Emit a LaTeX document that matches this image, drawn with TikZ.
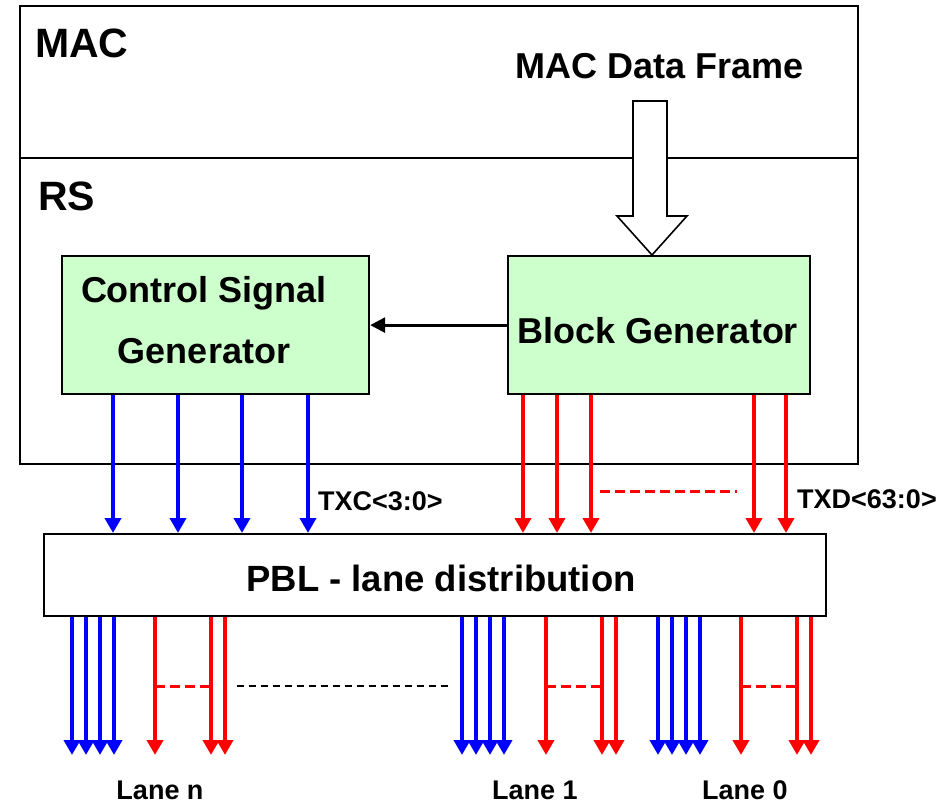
\documentclass[tikz,border=0pt]{standalone}
\usepackage{fontspec}
\setmainfont{Liberation Sans}
\usetikzlibrary{arrows.meta}
\definecolor{boxgreen}{RGB}{204,255,204}
\definecolor{sigblue}{RGB}{0,0,255}
\definecolor{sigred}{RGB}{255,0,0}
\begin{document}
\begin{tikzpicture}[x=1pt,y=-1pt,
  panel/.style={draw, line width=2.2pt, rectangle, inner sep=0pt, anchor=north west},
  genbox/.style={draw, line width=2.2pt, fill=boxgreen, rectangle, inner sep=0pt, anchor=north west},
  bluearr/.style={draw=sigblue, line width=4pt, -{Triangle[width=16pt,length=15pt]}, sigblue},
  redarr/.style={draw=sigred, line width=4pt, -{Triangle[width=16pt,length=15pt]}, sigred},
  reddash/.style={draw=sigred, line width=3pt, dash pattern=on 10pt off 5pt},
  blackdash/.style={draw=black, line width=2.5pt, dash pattern=on 7pt off 5pt},
  bigtxt/.style={font=\fontsize{41}{48}\selectfont\bfseries, inner sep=0pt},
  midtxt/.style={font=\fontsize{36}{44}\selectfont\bfseries, inner sep=0pt},
  smalltxt/.style={font=\fontsize{27}{32}\selectfont\bfseries, inner sep=0pt}
]
\useasboundingbox (0,0) rectangle (946,803);

% MAC and RS layers
\node[panel, minimum width=838pt, minimum height=152pt] (mac) at (19,5) {};
\node[panel, minimum width=838pt, minimum height=306pt] (rs) at (19,157) {};
\node[bigtxt, anchor=base west] (maclbl) at (35,57) {MAC};
\node[bigtxt, anchor=base west] (rslbl) at (38,210) {RS};
\node[midtxt, anchor=base] (frame) at (660,78) {MAC Data Frame};

% generators
\node[genbox, minimum width=307pt, minimum height=138pt] (csg) at (61,255) {};
\node[midtxt, anchor=base] (csgl1) at (204,302) {Control Signal};
\node[midtxt, anchor=base] (csgl2) at (204,363) {Generator};
\node[genbox, minimum width=302pt, minimum height=138pt] (bg) at (507,255) {};
\node[midtxt, anchor=base] (bgl) at (658,343) {Block Generator};

% hollow arrow carrying the data frame into the block generator
\draw[line width=1.6pt, fill=white]
  (633,101) -- (667,101) -- (667,216) -- (687,216) -- (bg.north -| 652,0)
  -- (617,216) -- (633,216) -- cycle;

% block generator feeds the control signal generator
\draw[line width=3pt, -{Triangle[width=15pt,length=15pt]}] (bg.west) -- (csg.east);

% lane distribution block
\node[panel, minimum width=782pt, minimum height=82pt] (pbl) at (43,533) {};
\node[font=\fontsize{36.5}{42}\selectfont\bfseries, inner sep=0pt, anchor=base] (pbll) at (441,591) {PBL - lane distribution};

% TXC and TXD buses
\foreach \x in {113,178,242,308} {
  \coordinate (c) at (\x,0);
  \draw[bluearr] (csg.south -| c) -- (pbl.north -| c);
}
\foreach \x in {523,557,591,754,786} {
  \coordinate (c) at (\x,0);
  \draw[redarr] (bg.south -| c) -- (pbl.north -| c);
}
\draw[reddash] (600,491) -- (737,491);
\node[smalltxt, anchor=base west] (txc) at (318,510) {TXC<3:0>};
\node[smalltxt, anchor=base west] (txd) at (797,508) {TXD<63:0>};

% lane outputs
\foreach \b/\r in {72/155, 462/546, 658/741} {
  \foreach \d in {0,14,28,42} {
    \coordinate (e) at (\b+\d,755);
    \draw[bluearr] (pbl.south -| e) -- (e);
  }
  \foreach \d in {0,56,70} {
    \coordinate (e) at (\r+\d,755);
    \draw[redarr] (pbl.south -| e) -- (e);
  }
  \draw[reddash] (\r,686) -- (\r+56,686);
}
\draw[blackdash] (237,686) -- (449,686);

\node[smalltxt, anchor=base] (lanen) at (160,799) {Lane n};
\node[smalltxt, anchor=base] (lane1) at (535,799) {Lane 1};
\node[smalltxt, anchor=base] (lane0) at (745,799) {Lane 0};
\end{tikzpicture}
\end{document}
